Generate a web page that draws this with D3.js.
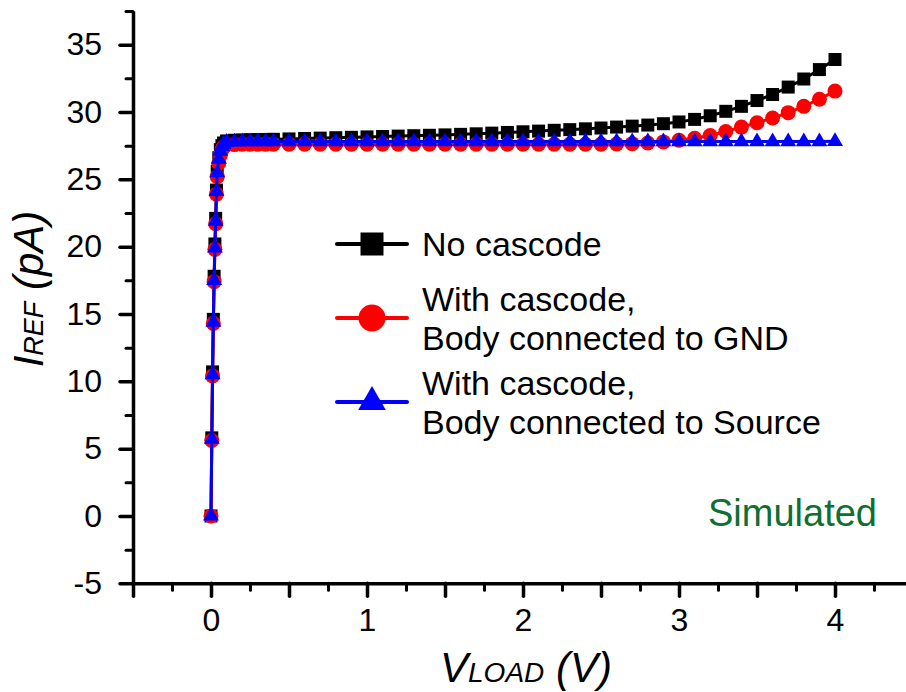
<!DOCTYPE html>
<head>
  <meta charset="utf-8">
  <title>I_REF vs V_LOAD</title>
  <style>
    body { margin: 0; background: #fff; }
    text { font-family: Arial, "Liberation Sans", sans-serif; }
  </style>
</head>
<body>
<script src="https://cdn.jsdelivr.net/npm/d3@7"></script>
<script>

// V_LOAD sweep points (V)
var vLoad = [0, 0.005, 0.01, 0.015, 0.02, 0.025, 0.03, 0.035, 0.04, 0.05, 0.06, 0.07, 0.08, 0.1,
             0.15, 0.2, 0.25, 0.3, 0.35, 0.4,
             0.5, 0.6, 0.7, 0.8, 0.9, 1.0, 1.1, 1.2, 1.3, 1.4, 1.5, 1.6, 1.7, 1.8, 1.9, 2.0,
             2.1, 2.2, 2.3, 2.4, 2.5, 2.6, 2.7, 2.8, 2.9, 3.0, 3.1, 3.2, 3.3, 3.4, 3.5,
             3.6, 3.7, 3.8, 3.9, 4.0];

// I_REF (pA) for each series
var noCascode = [0, 5.8, 10.7, 14.6, 17.8, 20.2, 22.1, 24.2, 25.6, 26.6, 27.2, 27.5, 27.7, 27.85,
                 27.9, 27.92, 27.94, 27.95, 27.96, 27.97,
                 28.0, 28.03, 28.06, 28.09, 28.12, 28.15, 28.18, 28.21, 28.24, 28.27, 28.3, 28.34, 28.38, 28.43, 28.48, 28.53,
                 28.58, 28.64, 28.69, 28.75, 28.81, 28.88, 28.95, 29.03, 29.13, 29.26, 29.45, 29.72, 30.05, 30.42, 30.85,
                 31.3, 31.85, 32.45, 33.15, 33.9];

var bodyGnd = [0, 5.6, 10.4, 14.3, 17.4, 19.8, 21.7, 23.9, 25.2, 26.2, 26.8, 27.2, 27.4, 27.55,
               27.58, 27.6, 27.6, 27.6, 27.6, 27.6,
               27.6, 27.6, 27.6, 27.6, 27.6, 27.6, 27.6, 27.6, 27.6, 27.6, 27.6, 27.6, 27.6, 27.6, 27.6, 27.6,
               27.6, 27.6, 27.6, 27.6, 27.6, 27.62, 27.65, 27.7, 27.78, 27.9, 28.05, 28.25, 28.55, 28.88, 29.2,
               29.55, 29.95, 30.42, 30.95, 31.55];

var bodySource = [0, 5.7, 10.5, 14.4, 17.5, 19.9, 21.9, 24.1, 25.5, 26.5, 27.1, 27.45, 27.6, 27.75,
                  27.78, 27.8, 27.8, 27.8, 27.8, 27.8,
                  27.8, 27.8, 27.8, 27.8, 27.8, 27.8, 27.8, 27.8, 27.8, 27.8, 27.8, 27.8, 27.8, 27.8, 27.8, 27.8,
                  27.8, 27.8, 27.8, 27.8, 27.8, 27.8, 27.8, 27.8, 27.8, 27.8, 27.8, 27.8, 27.8, 27.8, 27.8,
                  27.8, 27.8, 27.8, 27.8, 27.82];

var seriesNames = ["No cascode",
                   "With cascode,|Body connected to GND",
                   "With cascode,|Body connected to Source"];

var xMajor = [-0.5, 0, 0.5, 1, 1.5, 2, 2.5, 3, 3.5, 4];
var xMinor = [-0.25, 0.25, 0.75, 1.25, 1.75, 2.25, 2.75, 3.25, 3.75, 4.25];
var xLabels = [0, 1, 2, 3, 4];
var yMajor = [-5, 0, 5, 10, 15, 20, 25, 30, 35];
var yMinor = [-2.5, 2.5, 7.5, 12.5, 17.5, 22.5, 27.5, 32.5, 37.5];

var width = 906, height = 692;

var svg = d3.select('body').append('svg')
    .attr('width', width)
    .attr('height', height);

// scales
var xScale = d3.scaleLinear().domain([-0.5, 4.5]).range([133, 913]);
var yScale = d3.scaleLinear().domain([-5, 37.5]).range([583.3, 11]);

// --- axes ---
function styleAxis(g, w) {
  g.select('.domain').attr('stroke-width', 3.5);
  g.selectAll('.tick line').attr('stroke-width', w).attr('stroke-linecap', 'round');
  g.selectAll('text').style('font-size', '32px').attr('fill', '#000');
}

// minor ticks first
svg.append('g')
    .attr('transform', 'translate(0,' + yScale(-5) + ')')
    .call(d3.axisBottom(xScale).tickValues(xMinor).tickSize(7).tickSizeOuter(0).tickFormat(''))
    .call(function(g) { g.select('.domain').remove(); styleAxis(g, 3); });
svg.append('g')
    .attr('transform', 'translate(' + xScale(-0.5) + ',0)')
    .call(d3.axisLeft(yScale).tickValues(yMinor).tickSize(7).tickSizeOuter(0).tickFormat(''))
    .call(function(g) { g.select('.domain').remove(); styleAxis(g, 3); });

// major x ticks, labels only on integers
var xAxis = d3.axisBottom(xScale).tickValues(xMajor).tickSize(13).tickSizeOuter(0).tickPadding(12)
    .tickFormat(function(d) { return xLabels.indexOf(d) >= 0 ? d : ''; });
svg.append('g')
    .attr('transform', 'translate(0,' + yScale(-5) + ')')
    .call(xAxis)
    .call(function(g) { styleAxis(g, 3.5); });

// plain hyphen for negative labels, as in the original
var yAxis = d3.axisLeft(yScale).tickValues(yMajor).tickSize(13).tickSizeOuter(0).tickPadding(18)
    .tickFormat(function(d) { return String(d); });
svg.append('g')
    .attr('transform', 'translate(' + xScale(-0.5) + ',0)')
    .call(yAxis)
    .call(function(g) { styleAxis(g, 3.5); });

// axis titles
var xt = svg.append('text')
    .attr('x', 526).attr('y', 682)
    .attr('text-anchor', 'middle')
    .style('font-style', 'italic');
xt.append('tspan').style('font-size', '42px').text('V');
xt.append('tspan').style('font-size', '28px').text('LOAD');
xt.append('tspan').style('font-size', '42px').text(' (V)');

var yt = svg.append('text')
    .attr('transform', 'translate(43,289) rotate(-90)')
    .attr('text-anchor', 'middle')
    .style('font-style', 'italic');
yt.append('tspan').style('font-size', '42px').text('I');
yt.append('tspan').style('font-size', '27px').text('REF');
yt.append('tspan').style('font-size', '42px').text(' (pA)');

// --- series ---
var series = [
  {name: seriesNames[0], values: noCascode, color: '#000000', shape: d3.symbolSquare, size: 13 * 13},
  {name: seriesNames[1], values: bodyGnd, color: '#ff0000', shape: d3.symbolCircle, size: Math.PI * 7.5 * 7.5},
  {name: seriesNames[2], values: bodySource, color: '#0000ff', shape: d3.symbolTriangle, size: 110}
];

var line = d3.line()
    .x(function(d) { return xScale(d[0]); })
    .y(function(d) { return yScale(d[1]); });

series.forEach(function(s) {
  var pts = vLoad.map(function(v, i) { return [v, s.values[i]]; });
  var g = svg.append('g');
  g.append('path')
    .datum(pts)
    .attr('d', line)
    .attr('fill', 'none')
    .attr('stroke', s.color)
    .attr('stroke-width', 3);
  g.selectAll('path.m')
    .data(pts)
    .enter().append('path')
    .attr('class', 'm')
    .attr('transform', function(d) { return 'translate(' + xScale(d[0]) + ',' + yScale(d[1]) + ')'; })
    .attr('d', d3.symbol().type(s.shape).size(s.size))
    .attr('fill', s.color);
});

// --- legend ---
var legendRows = [
  {lineY: 244, textY: [256]},
  {lineY: 318, textY: [311, 350]},
  {lineY: 402, textY: [395, 434]}
];
var legendSizes = [23 * 23, Math.PI * 13.5 * 13.5, 330];

series.forEach(function(s, i) {
  var r = legendRows[i];
  svg.append('line')
    .attr('x1', 337).attr('x2', 407)
    .attr('y1', r.lineY).attr('y2', r.lineY)
    .attr('stroke', s.color).attr('stroke-width', 4)
    .attr('stroke-linecap', 'round');
  svg.append('path')
    .attr('transform', 'translate(372,' + r.lineY + ')')
    .attr('d', d3.symbol().type(s.shape).size(legendSizes[i]))
    .attr('fill', s.color);
  s.name.split('|').forEach(function(t, j) {
    svg.append('text')
      .attr('x', 422).attr('y', r.textY[j])
      .style('font-size', '34px')
      .text(t);
  });
});

// annotation
svg.append('text')
    .attr('x', 877).attr('y', 526)
    .attr('text-anchor', 'end')
    .style('font-size', '38px')
    .attr('fill', '#0f6e32')
    .text('Simulated');

</script>
</body>
